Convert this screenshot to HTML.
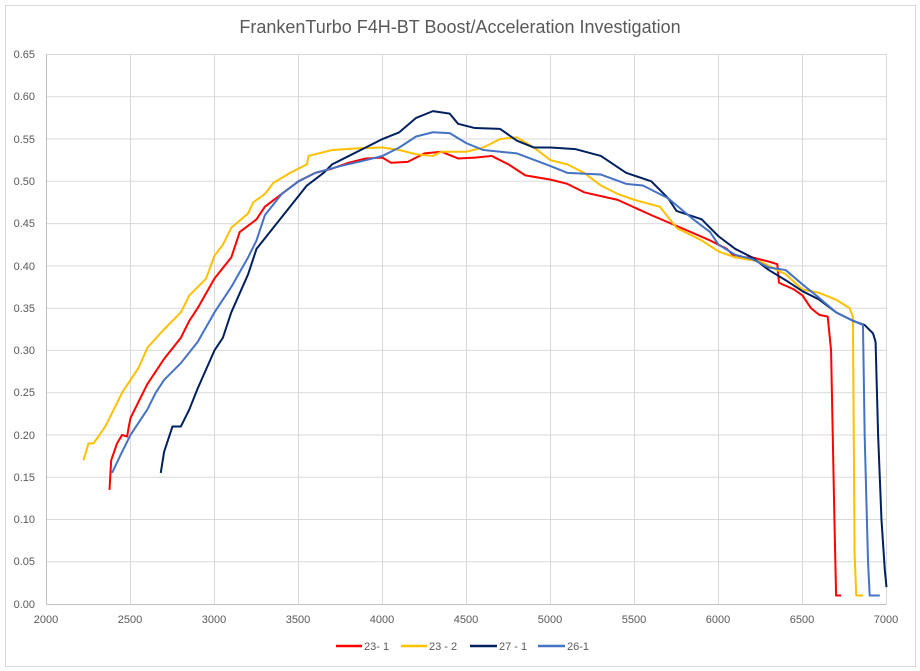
<!DOCTYPE html>
<html><head><meta charset="utf-8"><style>
html,body{margin:0;padding:0;background:#fff;}
svg{display:block;font-family:"Liberation Sans",sans-serif;}
</style></head><body>
<svg width="920" height="671" viewBox="0 0 920 671" xmlns="http://www.w3.org/2000/svg">
<rect x="0" y="0" width="920" height="671" fill="#fff"/>
<rect x="5.5" y="5.5" width="910" height="661" fill="none" stroke="#d9d9d9"/>
<text x="460" y="33" text-anchor="middle" font-size="18" fill="#595959">FrankenTurbo F4H-BT Boost/Acceleration Investigation</text>
<g stroke="#d9d9d9" stroke-width="1">
<line x1="46.5" y1="54.5" x2="886.5" y2="54.5"/><line x1="46.5" y1="96.8" x2="886.5" y2="96.8"/>
<line x1="46.5" y1="139" x2="886.5" y2="139"/><line x1="46.5" y1="181.3" x2="886.5" y2="181.3"/>
<line x1="46.5" y1="223.6" x2="886.5" y2="223.6"/><line x1="46.5" y1="265.9" x2="886.5" y2="265.9"/>
<line x1="46.5" y1="308.2" x2="886.5" y2="308.2"/><line x1="46.5" y1="350.4" x2="886.5" y2="350.4"/>
<line x1="46.5" y1="392.7" x2="886.5" y2="392.7"/><line x1="46.5" y1="435" x2="886.5" y2="435"/>
<line x1="46.5" y1="477.3" x2="886.5" y2="477.3"/><line x1="46.5" y1="519.5" x2="886.5" y2="519.5"/>
<line x1="46.5" y1="561.8" x2="886.5" y2="561.8"/>
<line x1="130.5" y1="54.5" x2="130.5" y2="604"/><line x1="214.5" y1="54.5" x2="214.5" y2="604"/>
<line x1="298.5" y1="54.5" x2="298.5" y2="604"/><line x1="382.5" y1="54.5" x2="382.5" y2="604"/>
<line x1="466.5" y1="54.5" x2="466.5" y2="604"/><line x1="550.5" y1="54.5" x2="550.5" y2="604"/>
<line x1="634.5" y1="54.5" x2="634.5" y2="604"/><line x1="718.5" y1="54.5" x2="718.5" y2="604"/>
<line x1="802.5" y1="54.5" x2="802.5" y2="604"/><line x1="886.5" y1="54.5" x2="886.5" y2="604"/>
</g>
<g stroke="#bfbfbf"><line x1="46.5" y1="54.5" x2="46.5" y2="604.5"/><line x1="46.5" y1="604.5" x2="886.5" y2="604.5"/></g>
<g font-size="11" fill="#595959" text-anchor="end">
<text x="35" y="58">0.65</text><text x="35" y="100">0.60</text><text x="35" y="143">0.55</text>
<text x="35" y="185">0.50</text><text x="35" y="227">0.45</text><text x="35" y="270">0.40</text>
<text x="35" y="312">0.35</text><text x="35" y="354">0.30</text><text x="35" y="396">0.25</text>
<text x="35" y="439">0.20</text><text x="35" y="481">0.15</text><text x="35" y="523">0.10</text>
<text x="35" y="565">0.05</text><text x="35" y="608">0.00</text>
</g>
<g font-size="11" fill="#595959" text-anchor="middle">
<text x="46" y="623">2000</text><text x="130" y="623">2500</text><text x="214" y="623">3000</text>
<text x="298" y="623">3500</text><text x="382" y="623">4000</text><text x="466" y="623">4500</text>
<text x="550" y="623">5000</text><text x="634" y="623">5500</text><text x="718" y="623">6000</text>
<text x="802" y="623">6500</text><text x="886" y="623">7000</text>
</g>
<g transform="translate(46.5,604) scale(0.168,-845.4) translate(-2000,0)" fill="none" stroke-width="2" stroke-linejoin="round">
<polyline vector-effect="non-scaling-stroke" stroke="#ff0000" points="2375,0.135 2385,0.17 2420,0.19 2450,0.2 2480,0.198 2490,0.21 2500,0.22 2550,0.24 2600,0.26 2650,0.275 2700,0.29 2800,0.315 2850,0.335 2900,0.35 3000,0.385 3100,0.41 3150,0.44 3250,0.455 3300,0.47 3400,0.485 3500,0.5 3600,0.51 3700,0.515 3800,0.522 3900,0.527 4000,0.528 4050,0.522 4150,0.523 4250,0.533 4350,0.535 4450,0.527 4550,0.528 4650,0.53 4750,0.52 4850,0.507 5000,0.502 5100,0.497 5200,0.487 5400,0.478 5600,0.46 5800,0.443 5950,0.43 6050,0.42 6100,0.41 6200,0.41 6300,0.405 6350,0.402 6360,0.38 6450,0.372 6500,0.365 6550,0.35 6600,0.342 6650,0.34 6670,0.3 6680,0.2 6690,0.1 6700,0.01 6730,0.01"/>
<polyline vector-effect="non-scaling-stroke" stroke="#ffc000" points="2220,0.17 2250,0.19 2280,0.19 2350,0.21 2400,0.23 2450,0.25 2500,0.265 2550,0.28 2600,0.303 2700,0.325 2800,0.345 2850,0.365 2950,0.385 3000,0.412 3050,0.425 3100,0.445 3200,0.462 3230,0.475 3300,0.485 3350,0.498 3450,0.51 3550,0.52 3560,0.53 3700,0.537 3850,0.539 4000,0.54 4100,0.537 4200,0.532 4300,0.53 4350,0.535 4500,0.535 4600,0.54 4700,0.55 4800,0.552 4900,0.54 5000,0.525 5100,0.52 5200,0.51 5300,0.495 5400,0.485 5500,0.478 5650,0.47 5750,0.445 5900,0.43 6000,0.417 6100,0.41 6250,0.405 6400,0.39 6500,0.372 6600,0.368 6700,0.36 6780,0.35 6800,0.34 6805,0.2 6810,0.06 6820,0.01 6860,0.01"/>
<polyline vector-effect="non-scaling-stroke" stroke="#002060" points="2680,0.155 2700,0.18 2750,0.21 2800,0.21 2850,0.23 2900,0.255 3000,0.3 3050,0.315 3100,0.345 3200,0.39 3250,0.42 3350,0.445 3450,0.47 3550,0.495 3650,0.51 3700,0.52 3800,0.53 3900,0.54 4000,0.55 4100,0.558 4200,0.575 4300,0.583 4400,0.58 4450,0.568 4550,0.563 4700,0.562 4800,0.548 4900,0.54 5000,0.54 5150,0.538 5300,0.53 5450,0.51 5600,0.5 5700,0.48 5750,0.465 5900,0.455 5950,0.445 6000,0.435 6100,0.42 6200,0.41 6300,0.395 6400,0.383 6500,0.37 6600,0.36 6700,0.345 6800,0.335 6870,0.33 6920,0.32 6935,0.31 6950,0.2 6970,0.1 6990,0.04 7000,0.02"/>
<polyline vector-effect="non-scaling-stroke" stroke="#4472c4" points="2390,0.155 2450,0.18 2500,0.2 2550,0.215 2600,0.23 2650,0.25 2700,0.265 2800,0.285 2900,0.31 3000,0.345 3100,0.375 3200,0.41 3250,0.43 3300,0.46 3400,0.485 3500,0.5 3600,0.51 3750,0.518 3900,0.525 4000,0.53 4100,0.54 4200,0.553 4300,0.558 4400,0.557 4500,0.545 4600,0.537 4800,0.533 5000,0.518 5100,0.51 5300,0.508 5450,0.497 5550,0.495 5700,0.48 5850,0.455 5950,0.44 6000,0.425 6100,0.413 6200,0.408 6300,0.398 6400,0.395 6500,0.378 6600,0.362 6700,0.345 6780,0.337 6860,0.33 6870,0.2 6890,0.05 6900,0.01 6960,0.01"/>
</g>
<g stroke-width="2.5">
<line x1="336" y1="646" x2="362" y2="646" stroke="#ff0000"/>
<line x1="401" y1="646" x2="427" y2="646" stroke="#ffc000"/>
<line x1="470" y1="646" x2="497" y2="646" stroke="#002060"/>
<line x1="538" y1="646" x2="565" y2="646" stroke="#4472c4"/>
</g>
<g font-size="11" fill="#595959">
<text x="364" y="650">23- 1</text><text x="429" y="650">23 - 2</text>
<text x="499" y="650">27 - 1</text><text x="567" y="650">26-1</text>
</g>
</svg>
</body></html>
